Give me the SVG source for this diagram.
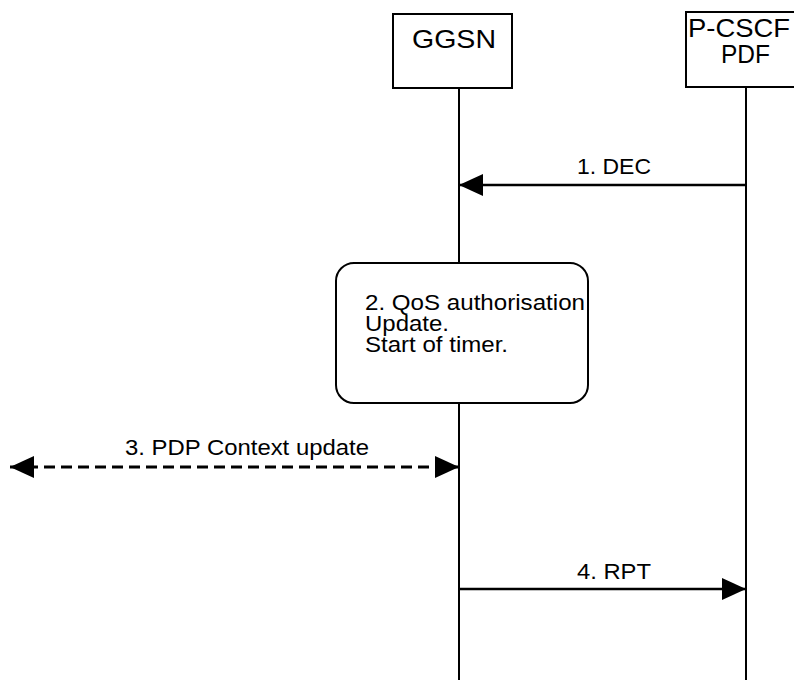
<svg xmlns="http://www.w3.org/2000/svg" width="794" height="680" viewBox="0 0 794 680">
<style>
.box{fill:#fff;stroke:#000;stroke-width:2}
.life{stroke:#000;stroke-width:2;fill:none}
.msg{stroke:#000;stroke-width:2.5;fill:none}
.dash{stroke:#000;stroke-width:3;fill:none;stroke-dasharray:11,6}
.big{font-family:"Liberation Sans",Arial,sans-serif;font-size:26px;fill:#000}
.lbl{font-family:"Liberation Sans",Arial,sans-serif;font-size:22px;fill:#000}
</style>
<defs>
<marker id="ah" viewBox="0 0 24 22" refX="24" refY="11" markerWidth="24" markerHeight="22" markerUnits="userSpaceOnUse" orient="auto-start-reverse">
<path d="M0,0 L24,11 L0,22 Z" fill="#000"/>
</marker>
</defs>
<g id="connectors">
<line class="life" x1="459" y1="88" x2="459" y2="263"/>
<line class="life" x1="459" y1="403" x2="459" y2="680"/>
<line class="life" x1="746" y1="87" x2="746" y2="680"/>
<line class="msg" x1="746" y1="185" x2="459" y2="185" marker-end="url(#ah)"/>
<line class="dash" x1="10" y1="467" x2="459" y2="467" marker-start="url(#ah)" marker-end="url(#ah)"/>
<line class="msg" x1="459" y1="589" x2="746" y2="589" marker-end="url(#ah)"/>
<text class="lbl" x="577" y="174" textLength="74" lengthAdjust="spacingAndGlyphs">1. DEC</text>
<text class="lbl" x="125" y="455" textLength="244" lengthAdjust="spacingAndGlyphs">3. PDP Context update</text>
<text class="lbl" x="577" y="579" textLength="74" lengthAdjust="spacingAndGlyphs">4. RPT</text>
</g>
<g id="ggsn">
<rect class="box" x="393" y="14" width="119" height="74"/>
<text class="big" x="412" y="48" textLength="84" lengthAdjust="spacingAndGlyphs">GGSN</text>
</g>
<g id="pcscf">
<rect class="box" x="686" y="12" width="116" height="75"/>
<text class="big" x="688" y="37" textLength="102" lengthAdjust="spacingAndGlyphs">P-CSCF</text>
<text class="big" x="721" y="63" textLength="49" lengthAdjust="spacingAndGlyphs">PDF</text>
</g>
<g id="step2">
<rect class="box" x="336" y="263" width="252" height="140" rx="18" ry="18"/>
<text class="lbl" x="365" y="310" textLength="220" lengthAdjust="spacingAndGlyphs">2. QoS authorisation</text>
<text class="lbl" x="365" y="331" textLength="84" lengthAdjust="spacingAndGlyphs">Update.</text>
<text class="lbl" x="365" y="352" textLength="143" lengthAdjust="spacingAndGlyphs">Start of timer.</text>
</g>
</svg>
